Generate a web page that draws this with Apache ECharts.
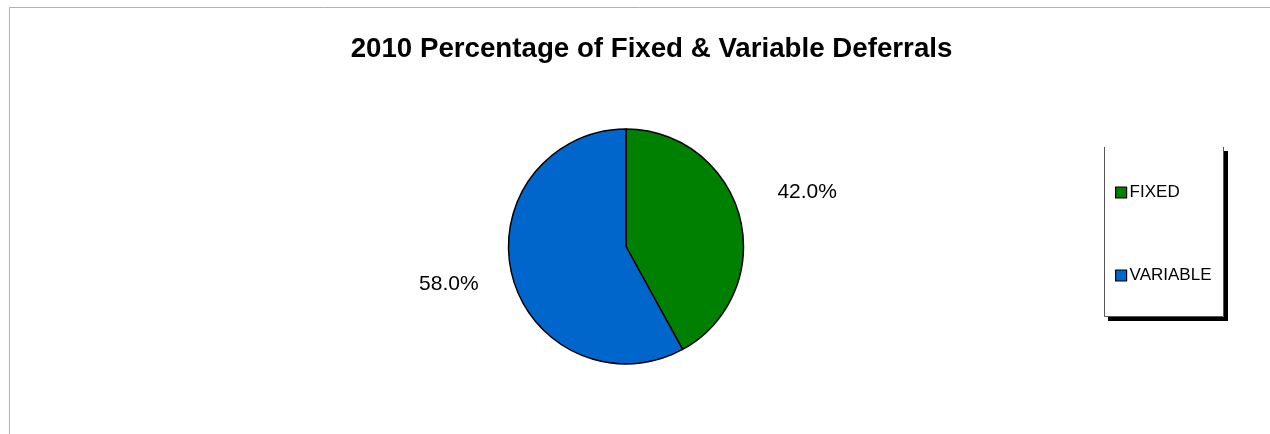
<!DOCTYPE html>
<html>
<head>
<meta charset="utf-8">
<script src="https://cdn.jsdelivr.net/npm/echarts@6/dist/echarts.min.js"></script>
<style>
  html, body { margin: 0; padding: 0; background: #fff; }
  #chart { width: 1270px; height: 434px; }
</style>
</head>
<body>
<div id="chart"></div>
<script>
// Deferral split for 2010
const categories = ['FIXED', 'VARIABLE'];
const shares = [42.0, 58.0];
const colors = ['#008000', '#0066CC'];
const titleText = '2010 Percentage of Fixed & Variable Deferrals';

const pieData = categories.map((name, i) => ({
  name: name,
  value: shares[i],
  itemStyle: { color: colors[i] }
}));

const chart = echarts.init(document.getElementById('chart'), null, { renderer: 'canvas' });

const fontFamily = 'Liberation Sans, Arial, Helvetica, sans-serif';
const pieCenter = [626, 246.5];

chart.setOption({
  animation: false,
  backgroundColor: '#fff',
  title: {
    text: titleText,
    left: 646.5,
    textAlign: 'center',
    top: 30,
    textStyle: { fontFamily: fontFamily, fontSize: 27.7, fontWeight: 'bold', color: '#000' }
  },
  legend: {
    orient: 'vertical',
    left: 1110,
    top: 179,
    itemGap: 66,
    icon: 'rect',
    itemWidth: 11,
    itemHeight: 11,
    data: categories,
    itemStyle: { borderColor: '#000', borderWidth: 1.2 },
    textStyle: { fontFamily: fontFamily, fontSize: 17, lineHeight: 17, color: '#000', padding: [0, 0, 0, -2] }
  },
  graphic: [
    // outer frame (top and left edges visible)
    { type: 'polyline', z: -10, shape: { points: [[9.5, 434], [9.5, 7.5], [1270, 7.5]] },
      style: { stroke: '#b0b0b0', lineWidth: 1, fill: null } },
    // legend shadow
    { type: 'rect', z: -5, shape: { x: 1108, y: 151, width: 120, height: 170 }, style: { fill: '#000' } },
    // legend panel
    { type: 'rect', z: -4, shape: { x: 1104, y: 147, width: 120, height: 170 }, style: { fill: '#fff' } },
    { type: 'polyline', z: -3, shape: { points: [[1104.5, 147], [1104.5, 316.5], [1223.5, 316.5], [1223.5, 147]] },
      style: { stroke: '#555', lineWidth: 1, fill: null } }
  ],
  series: [
    {
      type: 'pie',
      center: pieCenter,
      radius: [0, 117.5],
      startAngle: 90,
      clockwise: true,
      silent: true,
      label: { show: false },
      labelLine: { show: false },
      itemStyle: { borderColor: '#000', borderWidth: 1.5 },
      data: pieData
    },
    {
      // transparent ring used only to seat the percentage labels
      type: 'pie',
      center: pieCenter,
      radius: [0, 364],
      startAngle: 90,
      clockwise: true,
      silent: true,
      z: 1,
      itemStyle: { color: 'rgba(0,0,0,0)', borderWidth: 0 },
      label: {
        show: true,
        position: 'inside',
        offset: [2, -8],
        formatter: p => shares[p.dataIndex].toFixed(1) + '%',
        fontFamily: fontFamily,
        fontSize: 21,
        color: '#000'
      },
      labelLine: { show: false },
      data: categories.map((name, i) => ({ name: name, value: shares[i] }))
    }
  ]
});
</script>
</body>
</html>
